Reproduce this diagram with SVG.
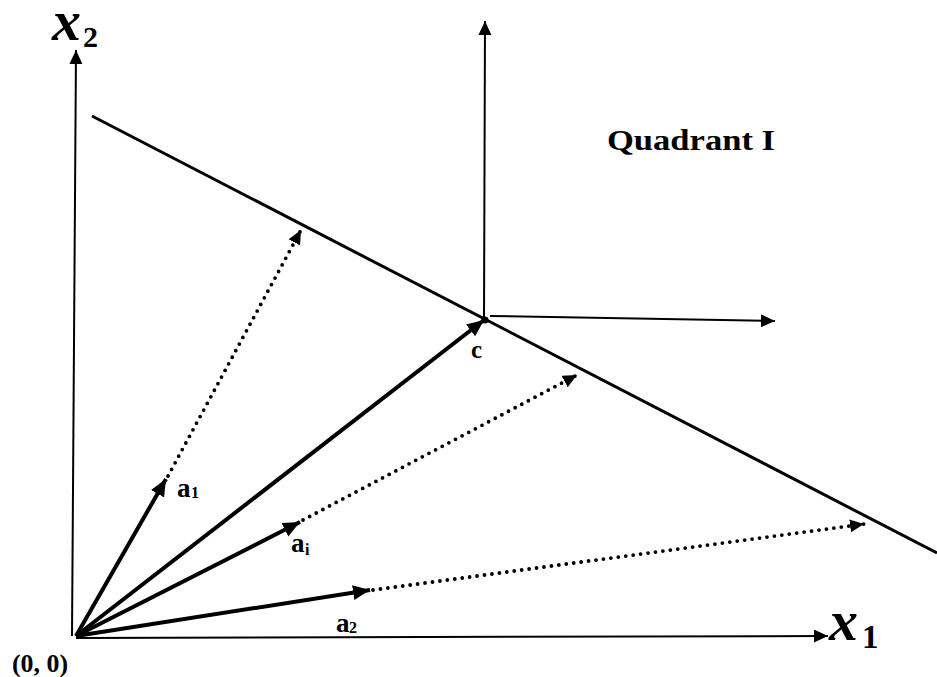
<svg xmlns="http://www.w3.org/2000/svg" width="937" height="677" viewBox="0 0 937 677">
<style>
.ax{stroke:#000;stroke-width:2;fill:none}
.vec{stroke:#000;stroke-width:4;fill:none}
.dot{stroke:#000;stroke-width:3.8;fill:none;stroke-dasharray:0 7.5;stroke-linecap:round}
</style>
<defs>
<marker id="ah" markerUnits="userSpaceOnUse" markerWidth="20" markerHeight="20" refX="17" refY="7.5" orient="auto">
<path d="M0,0 L17,7.5 L0,15 Z" fill="#000"/>
</marker>
<marker id="ahs" markerUnits="userSpaceOnUse" markerWidth="20" markerHeight="20" refX="14" refY="6.5" orient="auto">
<path d="M0,0 L14,6.5 L0,13 Z" fill="#000"/>
</marker>
</defs>
<rect width="937" height="677" fill="#fff"/>
<g id="connectors">
<line id="x2-axis" class="ax" x1="72" y1="636" x2="76" y2="50" marker-end="url(#ahs)"/>
<line id="x1-axis" class="ax" x1="76" y1="638" x2="828" y2="636" marker-end="url(#ahs)"/>
<line id="constraint" x1="92" y1="116" x2="937" y2="553" stroke="#000" stroke-width="3"/>
<line id="c-up" class="ax" x1="484" y1="318" x2="485" y2="21" marker-end="url(#ahs)"/>
<line id="c-right" class="ax" x1="490" y1="316" x2="775" y2="321" marker-end="url(#ahs)"/>
<line id="to-c" class="vec" x1="76" y1="636" x2="484" y2="320" marker-end="url(#ah)"/>
<line id="to-a1" class="vec" x1="76" y1="636" x2="166" y2="479" marker-end="url(#ah)"/>
<line id="to-ai" class="vec" x1="76" y1="636" x2="300" y2="522" marker-end="url(#ah)"/>
<line id="to-a2" class="vec" x1="76" y1="636" x2="370" y2="590" marker-end="url(#ah)"/>
<line id="dot-a1" class="dot" x1="168" y1="476" x2="301" y2="230" marker-end="url(#ahs)"/>
<line id="dot-ai" class="dot" x1="303" y1="520" x2="577" y2="375" marker-end="url(#ahs)"/>
<line id="dot-a2" class="dot" x1="373" y1="590" x2="864" y2="524" marker-end="url(#ahs)"/>
</g>
<g id="c-point"><circle cx="485" cy="320" r="3.5" fill="#000"/><text font-family="Liberation Serif, serif" font-weight="bold" x="471" y="358" font-size="25">c</text></g>
<g id="x2-label"><text font-family="Liberation Serif, serif" font-weight="bold" font-style="italic" x="52" y="40" font-size="58">x</text><text font-family="Liberation Serif, serif" font-weight="bold" x="83" y="47" font-size="30">2</text></g>
<g id="x1-label"><text font-family="Liberation Serif, serif" font-weight="bold" font-style="italic" x="829" y="640" font-size="58">x</text><text font-family="Liberation Serif, serif" font-weight="bold" x="862" y="648" font-size="33">1</text></g>
<g id="origin-label"><text font-family="Liberation Serif, serif" font-weight="bold" x="12" y="672" font-size="25" textLength="56" lengthAdjust="spacingAndGlyphs">(0, 0)</text></g>
<g id="quadrant-label"><text font-family="Liberation Serif, serif" font-weight="bold" x="607" y="150" font-size="29" textLength="168" lengthAdjust="spacingAndGlyphs">Quadrant I</text></g>
<g id="a1-label"><text font-family="Liberation Serif, serif" font-weight="bold" x="177" y="497" font-size="27">a</text><text font-family="Liberation Serif, serif" font-weight="bold" x="191" y="498" font-size="16">1</text></g>
<g id="ai-label"><text font-family="Liberation Serif, serif" font-weight="bold" x="291" y="552" font-size="27">a</text><text font-family="Liberation Serif, serif" font-weight="bold" x="305" y="555" font-size="16">i</text></g>
<g id="a2-label"><text font-family="Liberation Serif, serif" font-weight="bold" x="336" y="632" font-size="27">a</text><text font-family="Liberation Serif, serif" font-weight="bold" x="349" y="633" font-size="16">2</text></g>
</svg>
